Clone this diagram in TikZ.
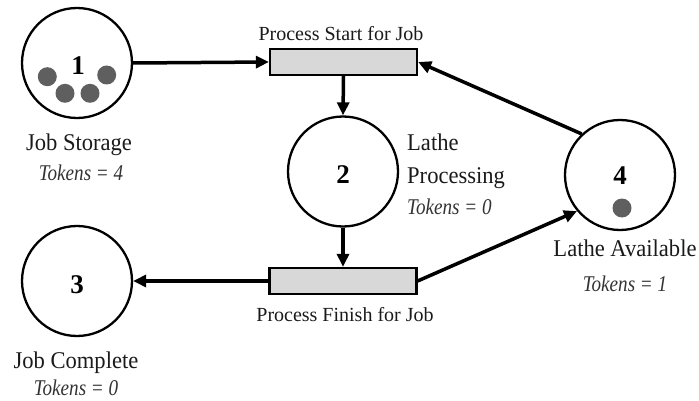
\documentclass[tikz,border=0pt]{standalone}
\usepackage{fontspec}
\setmainfont{Liberation Serif}
\newfontfamily\labfont{Liberation Serif}[FakeStretch=0.94]
\newfontfamily\tokfont{Liberation Serif}[FakeStretch=0.85]
\usetikzlibrary{arrows.meta}
\definecolor{tokgray}{HTML}{5F5F5F}
\definecolor{boxgray}{HTML}{D8D8D8}
\definecolor{textgray}{HTML}{1A1A1A}
\definecolor{itgray}{HTML}{333333}
\begin{document}
\begin{tikzpicture}[x=1pt,y=-1pt,
 place/.style={circle, draw, line width=2.3pt, minimum size=110pt, inner sep=0pt},
 trans/.style={draw, line width=2.3pt, fill=boxgray, minimum width=147pt, minimum height=26pt, inner sep=0pt},
 tok/.style={circle, fill=tokgray, minimum size=19pt, inner sep=0pt},
 arc/.style={line width=3.5pt, -{Triangle[length=13pt,width=12pt]}},
 num/.style={font=\fontsize{27}{27}\selectfont\bfseries, anchor=base, inner sep=0pt},
 lab/.style={font=\labfont\fontsize{24}{28}\selectfont, anchor=base, inner sep=0pt, text=textgray},
 tlab/.style={font=\fontsize{20}{24}\selectfont, anchor=base, inner sep=0pt, text=textgray},
 tokl/.style={font=\tokfont\fontsize{22.5}{26}\selectfont\itshape, anchor=base, inner sep=0pt, text=itgray}]
\useasboundingbox (0,0) rectangle (699,401);
% places
\node[place] (p1) at (77,63) {};
\node[place] (p2) at (343,171.5) {};
\node[place] (p3) at (77,281) {};
\node[place] (p4) at (620,175) {};
% transitions
\node[trans] (t1) at (343.5,62) {};
\node[trans] (t2) at (343,281) {};
% numbers
\node[num] (n1) at (78,75) {1};
\node[num] (n2) at (343,183.5) {2};
\node[num] (n3) at (77,293) {3};
\node[num] (n4) at (620,185) {4};
% tokens
\node[tok] (k1a) at (47.3,76.7) {};
\node[tok] (k1b) at (65,93.3) {};
\node[tok] (k1c) at (90,93.3) {};
\node[tok] (k1d) at (106.7,75) {};
\node[tok] (k4a) at (622,208) {};
% arcs
\draw[arc] (p1.east) -- (t1.west);
\draw[arc] (t1.south) -- (p2.north);
\draw[arc] (p2.south) -- (t2.north);
\draw[arc] (t2.west) -- (p3.east);
\draw[arc] (t2.east) -- (p4.220);
\draw[arc] (p4.133) -- (t1.east);
% labels
\node[tlab] (lt1) at (341,41) {Process Start for Job};
\node[tlab] (lt2) at (345,321.7) {Process Finish for Job};
\node[lab] (l1) at (79,151) {Job Storage};
\node[tokl] (c1) at (81,180) {Tokens = 4};
\node[lab, anchor=base west] (l2a) at (407,150.7) {Lathe};
\node[lab, anchor=base west] (l2b) at (407,183) {Processing};
\node[tokl, anchor=base west] (c2) at (407,214) {Tokens = 0};
\node[lab] (l4) at (625,256.7) {Lathe Available};
\node[tokl] (c4) at (625,291) {Tokens = 1};
\node[lab] (l3) at (76,368) {Job Complete};
\node[tokl] (c3) at (76,395.5) {Tokens = 0};
\end{tikzpicture}
\end{document}
